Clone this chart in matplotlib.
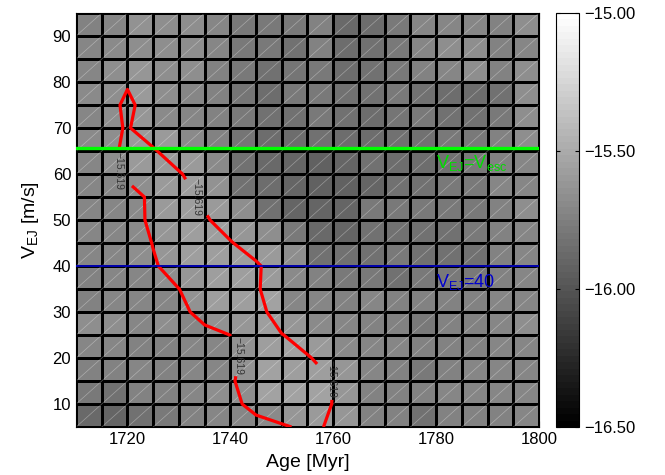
import numpy as np
import matplotlib
matplotlib.use("Agg")
import matplotlib.pyplot as plt
from matplotlib.collections import LineCollection
from matplotlib.ticker import FuncFormatter

plt.rcParams['font.family'] = ['Liberation Sans', 'DejaVu Sans']
plt.rcParams['mathtext.default'] = 'regular'

# grid nodes
age = [1710, 1715, 1720, 1725, 1730, 1735, 1740, 1745, 1750, 1755,
       1760, 1765, 1770, 1775, 1780, 1785, 1790, 1795, 1800]   # Myr
v_ej = [5, 10, 15, 20, 25, 30, 35, 40, 45, 50,
        55, 60, 65, 70, 75, 80, 85, 90, 95]                    # m/s

# log rate at each node, one row per V_EJ value (bottom to top)
rate_v05 = [-15.870, -15.900, -15.825, -15.795, -15.750, -15.720, -15.705, -15.684, -15.630, -15.601,
            -15.630, -15.750, -15.750, -15.825, -15.750, -15.750, -15.750, -15.705, -15.705]
rate_v10 = [-15.795, -15.825, -15.750, -15.750, -15.720, -15.675, -15.6701, -15.559, -15.5515, -15.559,
            -15.6228, -15.750, -15.750, -15.750, -15.720, -15.720, -15.705, -15.705, -15.705]
rate_v15 = [-15.750, -15.750, -15.720, -15.750, -15.720, -15.720, -15.6355, -15.544, -15.565, -15.574,
            -15.6199, -15.720, -15.750, -15.780, -15.750, -15.720, -15.720, -15.705, -15.705]
rate_v20 = [-15.720, -15.720, -15.750, -15.750, -15.720, -15.705, -15.6421, -15.574, -15.560, -15.607,
            -15.682, -15.720, -15.720, -15.750, -15.750, -15.750, -15.720, -15.705, -15.705]
rate_v25 = [-15.675, -15.675, -15.705, -15.675, -15.705, -15.6544, -15.6183, -15.570, -15.6131, -15.687,
            -15.720, -15.750, -15.750, -15.795, -15.750, -15.750, -15.705, -15.675, -15.675]
rate_v30 = [-15.750, -15.720, -15.720, -15.705, -15.6544, -15.574, -15.570, -15.5518, -15.7117, -15.720,
            -15.750, -15.720, -15.750, -15.750, -15.750, -15.750, -15.720, -15.705, -15.705]
rate_v35 = [-15.750, -15.720, -15.705, -15.675, -15.6199, -15.574, -15.570, -15.607, -15.682, -15.750,
            -15.780, -15.795, -15.825, -15.795, -15.780, -15.780, -15.750, -15.705, -15.705]
rate_v40 = [-15.720, -15.720, -15.675, -15.6303, -15.574, -15.570, -15.570, -15.604, -15.6788, -15.825,
            -15.825, -15.825, -15.795, -15.825, -15.825, -15.825, -15.750, -15.720, -15.720]
rate_v45 = [-15.720, -15.705, -15.681, -15.6151, -15.580, -15.575, -15.6117, -15.6721, -15.795, -15.870,
            -15.900, -15.825, -15.825, -15.825, -15.825, -15.795, -15.750, -15.720, -15.720]
rate_v50 = [-15.720, -15.705, -15.6828, -15.589, -15.580, -15.6049, -15.672, -15.825, -15.900, -15.900,
            -15.900, -15.795, -15.795, -15.795, -15.780, -15.780, -15.750, -15.675, -15.675]
rate_v55 = [-15.720, -15.705, -15.6627, -15.5965, -15.574, -15.6402, -15.825, -15.855, -15.900, -15.930,
            -15.930, -15.900, -15.825, -15.825, -15.780, -15.780, -15.720, -15.705, -15.705]
rate_v60 = [-15.720, -15.6627, -15.5965, -15.590, -15.6082, -15.6853, -15.825, -15.870, -15.900, -15.930,
            -15.900, -15.825, -15.855, -15.855, -15.825, -15.780, -15.750, -15.705, -15.705]
rate_v65 = [-15.690, -15.6627, -15.5965, -15.6064, -15.6852, -15.750, -15.810, -15.855, -15.855, -15.825,
            -15.855, -15.855, -15.825, -15.825, -15.780, -15.780, -15.750, -15.675, -15.675]
rate_v70 = [-15.705, -15.660, -15.610, -15.6851, -15.705, -15.750, -15.795, -15.825, -15.825, -15.795,
            -15.840, -15.855, -15.810, -15.795, -15.825, -15.825, -15.795, -15.675, -15.675]
rate_v75 = [-15.690, -15.6741, -15.5965, -15.6714, -15.705, -15.750, -15.810, -15.855, -15.795, -15.780,
            -15.825, -15.825, -15.795, -15.825, -15.855, -15.855, -15.825, -15.675, -15.675]
rate_v80 = [-15.705, -15.675, -15.6296, -15.660, -15.675, -15.750, -15.780, -15.840, -15.810, -15.780,
            -15.855, -15.825, -15.780, -15.750, -15.705, -15.675, -15.750, -15.675, -15.675]
rate_v85 = [-15.720, -15.690, -15.660, -15.660, -15.675, -15.720, -15.780, -15.795, -15.825, -15.750,
            -15.855, -15.825, -15.795, -15.720, -15.675, -15.675, -15.750, -15.705, -15.705]
rate_v90 = [-15.750, -15.705, -15.645, -15.660, -15.660, -15.720, -15.795, -15.795, -15.795, -15.750,
            -15.870, -15.855, -15.795, -15.705, -15.705, -15.720, -15.750, -15.675, -15.675]
rate_v95 = [-15.750, -15.705, -15.645, -15.660, -15.660, -15.720, -15.795, -15.795, -15.795, -15.750,
            -15.870, -15.855, -15.795, -15.705, -15.705, -15.720, -15.750, -15.675, -15.675]

contour_level = -15.619
v_esc = 65.6        # escape velocity [m/s]
v_ej_ref = 40       # reference ejection velocity [m/s]
label_spots = [(1718.9, 60.7), (1733.5, 55.0), (1740.8, 20.2), (1759.0, 14.7)]
cbar_ticks = [-16.5, -16.0, -15.5, -15.0]

Z = np.array([rate_v05, rate_v10, rate_v15, rate_v20, rate_v25, rate_v30, rate_v35,
              rate_v40, rate_v45, rate_v50, rate_v55, rate_v60, rate_v65, rate_v70,
              rate_v75, rate_v80, rate_v85, rate_v90, rate_v95])

minus = lambda s: s.replace('-', '\u2212')

fig = plt.figure(figsize=(6.65, 4.75), dpi=100)
ax = fig.add_axes([0.1143, 0.101, 0.6962, 0.8716])

# flat shading: each cell takes the value of its lower-left node
mesh = ax.pcolormesh(age, v_ej, Z[:-1, :-1], cmap=plt.get_cmap('gray', 64),
                     vmin=-16.5, vmax=-15.0, edgecolors='k', linewidth=0.85,
                     shading='flat')

# faint triangle split inside every cell
X, Y = np.meshgrid(age, v_ej)
lo = np.stack([X[:-1, :-1], Y[:-1, :-1]], axis=-1)
hi = np.stack([X[1:, 1:], Y[1:, 1:]], axis=-1)
segs = np.stack([lo, hi], axis=-2).reshape(-1, 2, 2)
ax.add_collection(LineCollection(segs, colors='white', linewidths=0.5,
                                 alpha=0.35, zorder=1.5))

cs = ax.contour(age, v_ej, Z, levels=[contour_level], colors='red',
                linewidths=2.3, linestyles='solid', zorder=3)
texts = ax.clabel(cs, inline=True, inline_spacing=2, fontsize=7.5,
                  colors='#333333', fmt=lambda v: minus(f"{v:.3f}"),
                  manual=label_spots)
for t in texts:
    t.set_rotation(270)

ax.axhline(v_esc, color='#00ff00', lw=2.4, zorder=4)
ax.axhline(v_ej_ref, color='#0000cc', lw=1.2, zorder=4)
ax.text(1780, 61.3, r'V$_{EJ}$=V$_{esc}$', color='#00dd00', fontsize=13, zorder=5)
ax.text(1780, 35.5, r'V$_{EJ}$=%d' % v_ej_ref, color='#0000cc', fontsize=13, zorder=5)

ax.set_xlim(1710, 1800)
ax.set_ylim(5, 95)
ax.set_xticks([1720, 1740, 1760, 1780, 1800])
ax.set_yticks([10, 20, 30, 40, 50, 60, 70, 80, 90])
ax.tick_params(direction='in', labelsize=12, length=4, top=True, right=True)
ax.set_xlabel('Age [Myr]', fontsize=14, labelpad=5)
ax.set_ylabel(r'V$_{EJ}$ [m/s]', fontsize=14, labelpad=8)

cax = fig.add_axes([0.836, 0.101, 0.0346, 0.8716])
cbar = fig.colorbar(mesh, cax=cax, ticks=cbar_ticks)
cbar.ax.yaxis.set_major_formatter(FuncFormatter(lambda v, p: minus(f"{v:.2f}")))
cbar.ax.tick_params(direction='in', labelsize=12, length=3, left=True, right=True)

fig.savefig('out.png', dpi=100)
